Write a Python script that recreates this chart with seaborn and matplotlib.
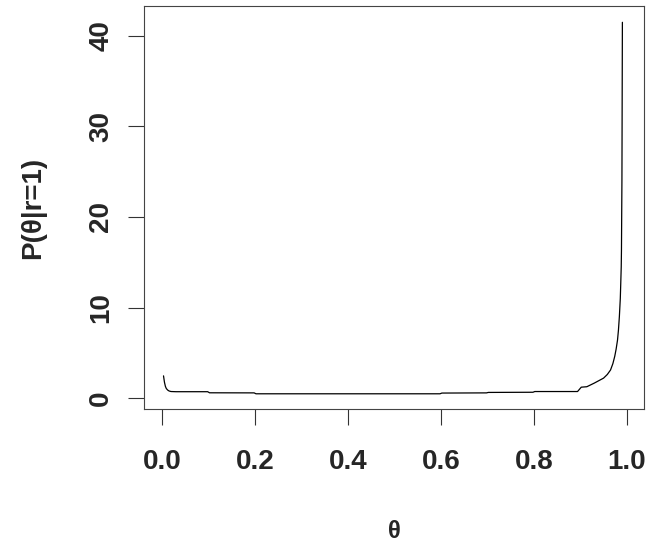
import matplotlib
matplotlib.use("Agg")
import matplotlib.pyplot as plt
import seaborn as sns
import pandas as pd

# Posterior density of theta after observing r = 1
theta = [0.003, 0.005, 0.007, 0.009, 0.012, 0.015, 0.019, 0.03, 0.098, 0.102,
         0.198, 0.202, 0.598, 0.602, 0.698, 0.702, 0.798, 0.802, 0.894, 0.902,
         0.914, 0.93, 0.95, 0.958, 0.965, 0.970, 0.974, 0.977, 0.980, 0.982,
         0.984, 0.986, 0.987, 0.988, 0.9885, 0.9895, 0.9905]
density = [2.45, 1.75, 1.3, 1.05, 0.88, 0.78, 0.72, 0.70, 0.70, 0.58,
           0.57, 0.47, 0.47, 0.55, 0.57, 0.62, 0.64, 0.72, 0.72, 1.2,
           1.25, 1.65, 2.2, 2.6, 3.1, 3.8, 4.6, 5.4, 6.4, 7.5,
           9.0, 11.0, 12.7, 14.5, 16.3, 24.0, 41.5]

x_ticks = [0.0, 0.2, 0.4, 0.6, 0.8, 1.0]
x_tick_labels = ["0.0", "0.2", "0.4", "0.6", "0.8", "1.0"]
y_ticks = [0, 10, 20, 30, 40]
y_tick_labels = ["0", "10", "20", "30", "40"]

df = pd.DataFrame({"theta": theta, "density": density})

sns.set_style("white")
plt.rcParams["font.family"] = ["Liberation Sans", "DejaVu Sans"]
plt.rcParams["font.weight"] = "bold"

fig = plt.figure(figsize=(6.52, 5.46), dpi=100)
ax = fig.add_axes([144 / 652, 1 - 409 / 546, 500 / 652, 403 / 546])

sns.lineplot(data=df, x="theta", y="density", color="black", linewidth=0.9,
             ax=ax, estimator=None, sort=False)

ax.set_xlim(-0.039, 1.037)
ax.set_ylim(-1.21, 43.3)

ax.set_xticks(x_ticks)
ax.set_xticklabels(x_tick_labels, fontsize=20, fontweight="bold")
ax.set_yticks(y_ticks)
ax.set_yticklabels(y_tick_labels, fontsize=20, fontweight="bold",
                   rotation=90, va="center")

ax.tick_params(axis="both", direction="out", length=11.5, width=0.8,
               color="#333333", bottom=True, left=True)
ax.tick_params(axis="x", pad=17)
ax.tick_params(axis="y", pad=10)

for spine in ax.spines.values():
    spine.set_visible(True)
    spine.set_color("#444444")
    spine.set_linewidth(0.8)

ax.set_xlabel("θ", fontsize=17, fontweight="bold", labelpad=33)
ax.set_ylabel("P(θ|r=1)", fontsize=20, fontweight="bold", labelpad=30)

fig.savefig("out.png", dpi=100, facecolor="white")
